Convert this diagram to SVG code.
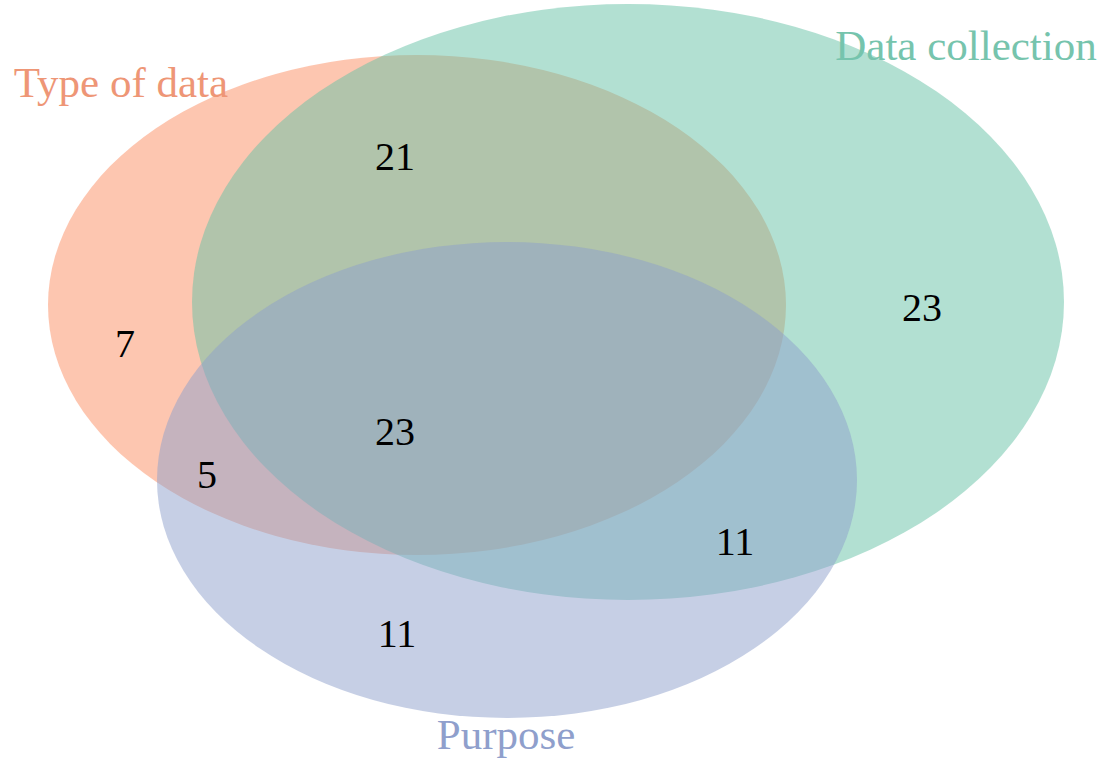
<svg xmlns="http://www.w3.org/2000/svg" width="1107" height="765" viewBox="0 0 1107 765">
<style>
.set{fill-opacity:0.5;stroke:none}
.num{font-family:"Liberation Serif","Times New Roman",serif;font-size:40px;fill:#000;text-anchor:middle}
.lab{font-family:"Liberation Serif","Times New Roman",serif;font-size:43px;text-anchor:middle}
</style>
<rect width="1107" height="765" fill="#ffffff"/>
<g id="type-of-data">
<ellipse class="set" cx="417" cy="305" rx="369" ry="250" fill="#fc8d62"/>
</g>
<g id="data-collection">
<ellipse class="set" cx="628" cy="302" rx="436" ry="298" fill="#66c2a5"/>
</g>
<g id="purpose">
<ellipse class="set" cx="507" cy="480" rx="350" ry="238" fill="#8da0cb"/>
</g>
<g id="labels">
<text class="lab" x="121" y="97" fill="#ee9676">Type of data</text>
<text class="lab" x="966" y="60" fill="#76c4ad">Data collection</text>
<text class="lab" x="506" y="749" fill="#8f9fcc">Purpose</text>
</g>
<g id="counts">
<text class="num" x="395" y="170">21</text>
<text class="num" x="125" y="357">7</text>
<text class="num" x="922" y="321">23</text>
<text class="num" x="395" y="445">23</text>
<text class="num" x="207" y="488">5</text>
<text class="num" x="735" y="555">11</text>
<text class="num" x="397" y="647">11</text>
</g>
<g id="connectors"></g>
</svg>
